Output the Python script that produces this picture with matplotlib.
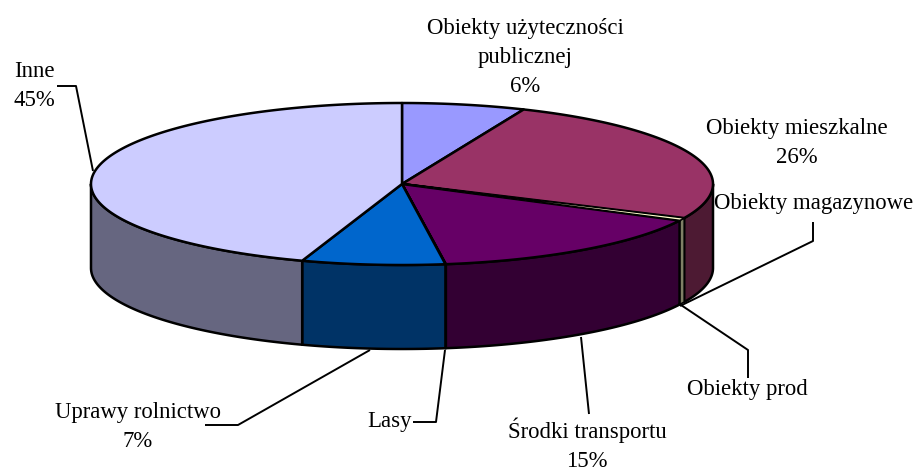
import numpy as np
import matplotlib
matplotlib.use("Agg")
import matplotlib.pyplot as plt
from matplotlib.patches import Polygon

categories = ["Obiekty użyteczności\npublicznej", "Obiekty mieszkalne", "Obiekty magazynowe",
              "Obiekty prod", "Środki transportu", "Lasy", "Uprawy rolnictwo", "Inne"]
values = [6.4, 25.5, 0.5, 0.05, 15.3, 0.02, 7.43, 44.8]
top_colors = ["#9999FF", "#993366", "#FFFFCC", "#CCFFFF", "#660066", "#FF8080", "#0066CC", "#CCCCFF"]
side_colors = ["#4D4D80", "#4D1A33", "#808066", "#668080", "#330033", "#804040", "#003366", "#666680"]
label_texts = ["Obiekty użyteczności\npublicznej\n6%", "Obiekty mieszkalne\n26%", "Obiekty magazynowe",
               "Obiekty prod", "Środki transportu\n15%", "Lasy", "Uprawy rolnictwo\n7%", "Inne\n45%"]

CX, CY, A, B, D = 402, 184, 311, 81, 84

fig = plt.figure(figsize=(9.15, 4.72), dpi=100)
ax = fig.add_axes([0, 0, 1, 1])
ax.set_xlim(0, 915)
ax.set_ylim(472, 0)
ax.axis("off")


def rim(a0, a1, dy=0.0):
    t = np.radians(np.linspace(a0, a1, max(int(abs(a1 - a0) * 2), 2)))
    return np.column_stack([CX + A * np.sin(t), CY + dy - B * np.cos(t)])


LW = 1.8
edges = np.cumsum([0] + values) / sum(values) * 360
order = [1, 3, 4, 5, 6, 7, 2]
for i in order:
    a0, a1 = max(edges[i], 90), min(edges[i + 1], 270)
    if a1 <= a0:
        continue
    up = rim(a0, a1)
    low = rim(a0, a1, D)[::-1]
    ax.add_patch(Polygon(np.vstack([up, low]), closed=True, fc=side_colors[i], ec="black",
                         lw=1.2 if i == 2 else LW, joinstyle="round", zorder=2))
for i in [0, 1, 3, 4, 5, 6, 7, 2]:
    pts = np.vstack([[[CX, CY]], rim(edges[i], edges[i + 1])])
    ax.add_patch(Polygon(pts, closed=True, fc=top_colors[i], ec="black",
                         lw=1.0 if i == 2 else LW, joinstyle="round", zorder=3))

leaders = [
    ([57, 76, 93], [86, 86, 171]),
    ([205, 238, 370], [425, 425, 350]),
    ([413, 436, 445], [422, 422, 350]),
    ([589, 589, 581], [414, 414, 337]),
    ([748, 748, 681], [378, 350, 305]),
    ([813, 813, 680], [222, 241, 306]),
]
for xs, ys in leaders:
    ax.plot(xs, ys, color="black", lw=1.4, zorder=1, solid_capstyle="butt")

text_pos = {0: (525, 57.5), 1: (797, 143), 2: (814, 204), 3: (747, 389), 4: (587, 445),
            5: (390, 421), 6: (138, 427), 7: (34, 86)}
for i, (x, y) in text_pos.items():
    ax.text(x, y, label_texts[i], ha="center", va="center", fontsize=16.4, linespacing=1.52,
            family="Liberation Serif", color="black", zorder=5)

fig.savefig("out.png", dpi=100, facecolor="white")
